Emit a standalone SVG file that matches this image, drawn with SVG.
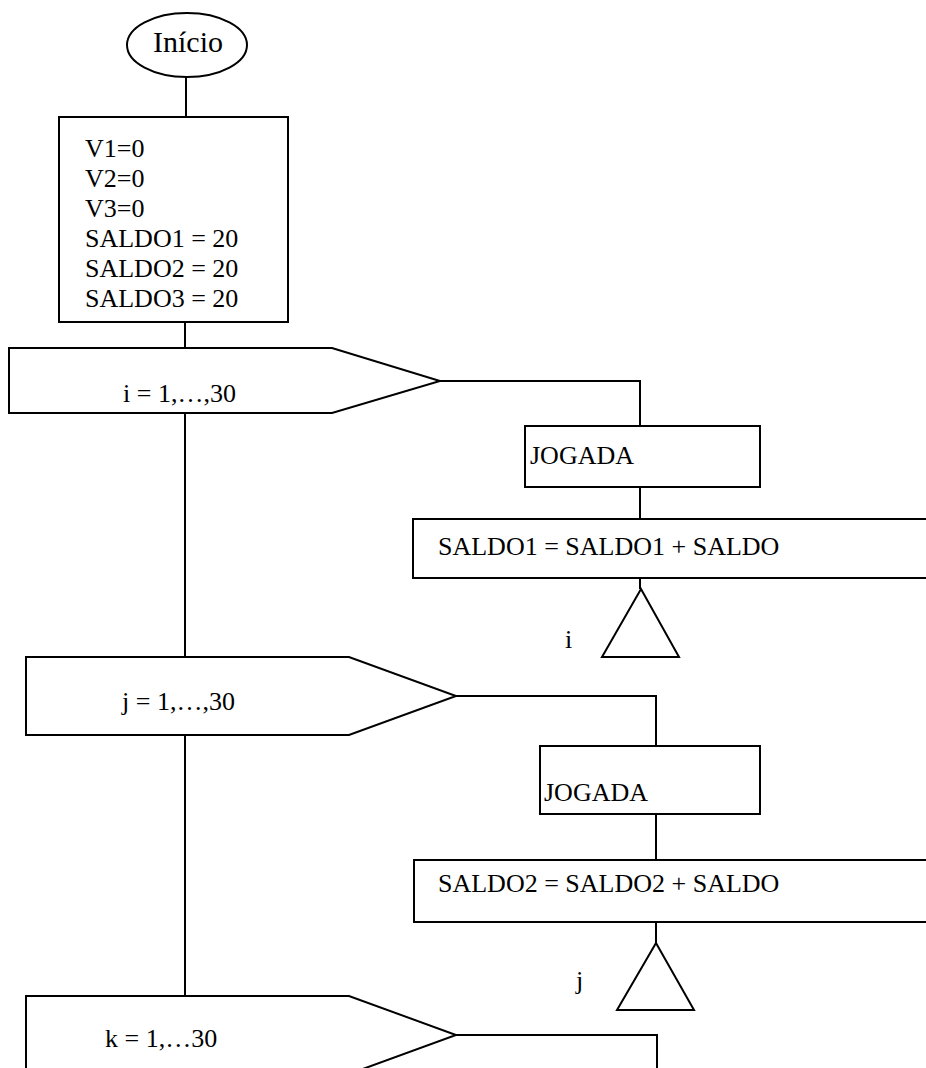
<svg xmlns="http://www.w3.org/2000/svg" width="926" height="1068" viewBox="0 0 926 1068" font-family="Liberation Serif, Times New Roman, serif">
  <style>
    .shape { fill: #ffffff; stroke: #000000; stroke-width: 2; }
    .wire { fill: none; stroke: #000000; stroke-width: 2; }
    .lbl { font-family: 'Liberation Serif', 'Times New Roman', Times, serif; font-size: 26px; fill: #000000; }
    .title { font-size: 30px; }
  </style>
  <rect width="926" height="1068" fill="#ffffff"/>

  <!-- connectors -->
  <g id="connectors">
    <path class="wire" d="M186 77 V117"/>
    <path class="wire" d="M185 322 V348"/>
    <path class="wire" d="M185 413 V657"/>
    <path class="wire" d="M185 735 V996"/>
    <path class="wire" d="M440 381 H640 V426"/>
    <path class="wire" d="M640 487 V519"/>
    <path class="wire" d="M640 578 V589"/>
    <path class="wire" d="M456 696 H656 V746"/>
    <path class="wire" d="M656 814 V860"/>
    <path class="wire" d="M656 922 V943"/>
    <path class="wire" d="M456 1035 H657 V1068"/>
  </g>

  <!-- start -->
  <g id="start">
    <ellipse class="shape" cx="187" cy="45" rx="60" ry="32"/>
    <text class="lbl title" x="153" y="52">Início</text>
  </g>

  <!-- initialisation -->
  <g id="init">
    <rect class="shape" x="59" y="117" width="229" height="205"/>
    <text class="lbl" x="85" y="157">V1=0</text>
    <text class="lbl" x="85" y="187">V2=0</text>
    <text class="lbl" x="85" y="217">V3=0</text>
    <text class="lbl" x="85" y="247">SALDO1 = 20</text>
    <text class="lbl" x="85" y="277">SALDO2 = 20</text>
    <text class="lbl" x="85" y="307">SALDO3 = 20</text>
  </g>

  <!-- loop i -->
  <g id="loop-i">
    <path class="shape" d="M9 348 H332 L440 381 L332 413 H9 Z"/>
    <text class="lbl" x="123" y="402">i = 1,…,30</text>
  </g>
  <g id="jogada-1">
    <rect class="shape" x="525" y="426" width="235" height="61"/>
    <text class="lbl" x="530" y="464">JOGADA</text>
  </g>
  <g id="saldo-1">
    <rect class="shape" x="413" y="519" width="530" height="59"/>
    <text class="lbl" x="438" y="555">SALDO1 = SALDO1 + SALDO</text>
  </g>
  <g id="end-i">
    <path class="shape" d="M641 589 L679 657 H602 Z"/>
    <text class="lbl" x="565" y="648">i</text>
  </g>

  <!-- loop j -->
  <g id="loop-j">
    <path class="shape" d="M26 657 H349 L456 696 L349 735 H26 Z"/>
    <text class="lbl" x="122" y="710">j = 1,…,30</text>
  </g>
  <g id="jogada-2">
    <rect class="shape" x="540" y="746" width="220" height="68"/>
    <text class="lbl" x="544" y="801">JOGADA</text>
  </g>
  <g id="saldo-2">
    <rect class="shape" x="414" y="860" width="530" height="62"/>
    <text class="lbl" x="438" y="892">SALDO2 = SALDO2 + SALDO</text>
  </g>
  <g id="end-j">
    <path class="shape" d="M656 943 L694 1010 H617 Z"/>
    <text class="lbl" x="576" y="989">j</text>
  </g>

  <!-- loop k -->
  <g id="loop-k">
    <path class="shape" d="M26 1080 V996 H349 L456 1035 L349 1074 H26"/>
    <text class="lbl" x="105" y="1047">k = 1,…30</text>
  </g>
</svg>
